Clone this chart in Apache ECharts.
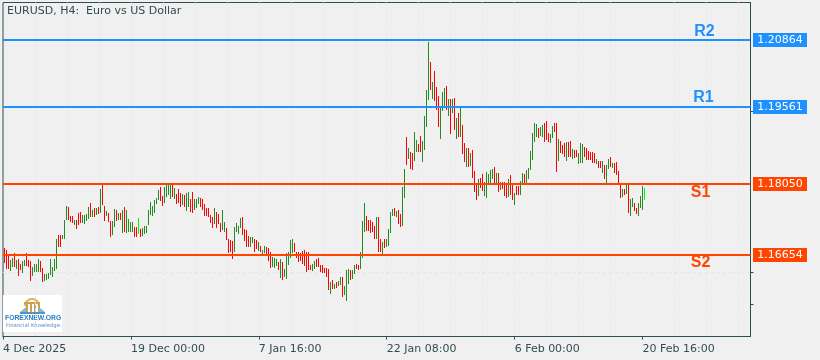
<!DOCTYPE html>
<html><head><meta charset="utf-8">
<style>html,body{margin:0;padding:0;background:#f0f0f0}#c{width:820px;height:360px}</style>
<script src="https://cdn.jsdelivr.net/npm/echarts@6/dist/echarts.min.js"></script>
</head><body><div id="c"></div>
<script>
const title = 'EURUSD, H4:  Euro vs US Dollar';
const tickLabels = ['4 Dec 2025','19 Dec 00:00','7 Jan 16:00','22 Jan 08:00','6 Feb 00:00','20 Feb 16:00'];
const levelNames = ['R2','R1','S1','S2'];
const levelValues = [1.20864,1.19561,1.18050,1.16654];
const levelColors = ['#1E90FF','#1E90FF','#FF4500','#FF4500'];
const levelTextSlot = [351,350.5,349,349];
const levelTextShift = [-8.5,-9,8.5,7.5];
const highs = [
1.1681,1.1677,1.1667,1.1657,1.1661,1.1671,1.1657,1.1659,1.1648,1.1654,
1.1656,1.1671,1.1657,1.1654,1.1643,1.1648,1.1649,1.1658,1.1654,1.1641,
1.1630,1.1630,1.1631,1.1658,1.1643,1.1659,1.1698,1.1706,1.1706,1.1706,
1.1735,1.1762,1.1760,1.1742,1.1742,1.1734,1.1734,1.1748,1.1750,1.1744,
1.1744,1.1747,1.1760,1.1769,1.1755,1.1758,1.1758,1.1761,1.1796,1.1805,
1.1763,1.1752,1.1748,1.1733,1.1733,1.1757,1.1755,1.1748,1.1748,1.1755,
1.1761,1.1755,1.1737,1.1731,1.1731,1.1721,1.1721,1.1739,1.1718,1.1720,
1.1724,1.1724,1.1755,1.1770,1.1763,1.1773,1.1778,1.1794,1.1799,1.1781,
1.1799,1.1805,1.1805,1.1803,1.1805,1.1798,1.1786,1.1795,1.1788,1.1785,
1.1783,1.1788,1.1790,1.1776,1.1790,1.1776,1.1776,1.1780,
1.1778,1.1776,1.1767,1.1759,1.1759,1.1744,1.1741,1.1759,1.1750,1.1747,
1.1729,1.1754,1.1731,1.1720,1.1698,1.1695,1.1694,1.1721,1.1729,1.1724,
1.1739,1.1741,1.1718,1.1716,1.1703,1.1701,1.1701,1.1698,1.1696,1.1692,
1.1683,1.1677,1.1683,1.1682,1.1681,1.1672,1.1663,1.1661,1.1659,1.1652,
1.1659,1.1652,1.1639,1.1670,1.1672,1.1696,1.1698,1.1690,1.1672,1.1672,
1.1670,1.1675,1.1677,1.1672,1.1672,1.1646,1.1648,1.1654,1.1659,1.1661,
1.1646,1.1646,1.1641,1.1641,1.1639,1.1613,1.1617,1.1610,1.1613,1.1615,
1.1623,1.1623,1.1605,1.1637,1.1639,1.1638,1.1637,1.1646,1.1648,1.1646,
1.1672,1.1732,1.1769,1.1742,1.1734,1.1734,1.1731,1.1724,1.1741,1.1741,
1.1698,1.1692,1.1698,1.1698,1.1718,1.1750,1.1757,1.1759,1.1752,1.1754,
1.1747,1.1799,1.1834,1.1897,1.1876,1.1868,1.1866,1.1907,1.1891,1.1883,
1.1899,1.1889,1.1938,1.1989,1.2082,1.2044,1.2005,1.2027,1.1994,1.1977,
1.1953,1.1985,1.1992,1.1997,1.1971,1.1971,1.1971,1.1974,1.1935,1.1943,
1.1954,1.1920,1.1886,1.1876,1.1876,1.1866,1.1871,1.1831,1.1803,1.1814,
1.1817,1.1824,1.1809,1.1829,1.1824,1.1832,1.1835,1.1839,1.1827,1.1827,
1.1809,1.1809,1.1809,1.1806,1.1814,1.1822,1.1805,1.1788,1.1801,1.1801,
1.1811,1.1827,1.1824,1.1833,1.1837,
1.1869,1.1905,1.1925,1.1922,1.1915,1.1917,1.1920,1.1925,1.1929,1.1904,
1.1902,1.1918,1.1925,1.1925,1.1893,1.1889,1.1881,1.1886,1.1888,1.1888,
1.1889,1.1873,1.1871,1.1871,1.1866,1.1886,1.1883,1.1877,1.1876,1.1869,
1.1868,1.1868,1.1865,1.1855,1.1850,1.1850,1.1850,1.1842,1.1842,1.1855,
1.1858,1.1846,1.1846,1.1848,1.1830,1.1806,1.1795,1.1795,1.1804,1.1804,
1.1775,1.1777,1.1769,1.1758,1.1768,1.1781,1.1801,1.1798];
const lows = [
1.1651,1.1639,1.1639,1.1636,1.1643,1.1643,1.1639,1.1626,1.1637,1.1631,
1.1645,1.1646,1.1643,1.1615,1.1626,1.1632,1.1633,1.1633,1.1632,1.1613,
1.1617,1.1618,1.1620,1.1626,1.1624,1.1636,1.1639,1.1682,1.1682,1.1698,
1.1698,1.1734,1.1734,1.1731,1.1728,1.1724,1.1717,1.1724,1.1729,1.1728,
1.1726,1.1734,1.1737,1.1742,1.1741,1.1741,1.1744,1.1747,1.1750,1.1763,
1.1733,1.1742,1.1731,1.1701,1.1705,1.1721,1.1733,1.1734,1.1734,1.1711,
1.1712,1.1711,1.1711,1.1711,1.1711,1.1701,1.1701,1.1708,1.1703,1.1705,
1.1708,1.1711,1.1726,1.1744,1.1744,1.1747,1.1767,1.1774,1.1772,1.1761,
1.1768,1.1780,1.1783,1.1776,1.1780,1.1776,1.1767,1.1767,1.1760,1.1763,
1.1760,1.1752,1.1760,1.1750,1.1748,1.1754,1.1759,1.1767,
1.1760,1.1754,1.1744,1.1744,1.1742,1.1729,1.1719,1.1728,1.1719,1.1728,
1.1711,1.1714,1.1711,1.1697,1.1670,1.1672,1.1658,1.1672,1.1711,1.1708,
1.1720,1.1705,1.1695,1.1682,1.1682,1.1682,1.1690,1.1672,1.1678,1.1675,
1.1671,1.1669,1.1670,1.1665,1.1656,1.1641,1.1643,1.1641,1.1646,1.1637,
1.1622,1.1617,1.1623,1.1619,1.1646,1.1661,1.1670,1.1672,1.1661,1.1652,
1.1654,1.1649,1.1646,1.1633,1.1636,1.1636,1.1635,1.1638,1.1643,1.1644,
1.1633,1.1631,1.1631,1.1624,1.1597,1.1590,1.1600,1.1600,1.1602,1.1605,
1.1607,1.1584,1.1587,1.1576,1.1610,1.1618,1.1620,1.1628,1.1639,1.1637,
1.1638,1.1659,1.1712,1.1712,1.1712,1.1709,1.1711,1.1699,1.1698,1.1673,
1.1673,1.1669,1.1681,1.1682,1.1685,1.1709,1.1744,1.1744,1.1741,1.1726,
1.1722,1.1722,1.1777,1.1842,1.1854,1.1835,1.1832,1.1850,1.1867,1.1868,
1.1868,1.1848,1.1871,1.1917,1.1969,1.1990,1.1972,1.1968,1.1950,1.1917,
1.1893,1.1948,1.1952,1.1950,1.1937,1.1903,1.1944,1.1912,1.1893,1.1897,
1.1897,1.1863,1.1848,1.1839,1.1839,1.1840,1.1817,1.1790,1.1773,1.1780,
1.1798,1.1790,1.1781,1.1778,1.1805,1.1806,1.1816,1.1807,1.1806,1.1790,
1.1793,1.1796,1.1782,1.1778,1.1778,1.1782,1.1773,1.1764,1.1783,1.1783,
1.1783,1.1806,1.1806,1.1807,1.1816,
1.1831,1.1853,1.1888,1.1897,1.1895,1.1899,1.1897,1.1888,1.1892,1.1886,
1.1884,1.1895,1.1907,1.1830,1.1850,1.1865,1.1863,1.1858,1.1850,1.1858,
1.1858,1.1853,1.1855,1.1858,1.1844,1.1846,1.1846,1.1857,1.1853,1.1852,
1.1853,1.1846,1.1845,1.1846,1.1837,1.1836,1.1827,1.1814,1.1806,1.1836,
1.1839,1.1836,1.1827,1.1822,1.1806,1.1779,1.1780,1.1783,1.1786,1.1750,
1.1741,1.1759,1.1754,1.1747,1.1743,1.1757,1.1754,1.1775];
const directions = ('rrrggrgrrg'+'grrrggggrr'+'gggggggrrg'+'ggrrrgrrrg'+'gggrgrgrgr'+'rgrrggrgrg'+
'rggggrrlrg'+'ggggggggrr'+'ggggrgrrrg'+'rggrrgggrr'+'rrrrrgrrrg'+'grrrrggggr'+'rrrggrrgrg'+
'grrrgggrgr'+'gggggrrrrr'+'rrrrggrrrr'+'rrrgrgrggr'+'gggrggrrgg'+'grrrrrgrrg'+'rggggrgrrg'+
'grgrrggrrg'+'gggrgrrrgg'+'grgrgrgrgr'+'rgrgrrrgrr'+'gggggrgrgr'+'rrgrrgrrgg'+'rggggggrgg'+
'rrrggrrgrr'+'rgrrgrrggg'+'rrrrrrgrrg'+'rggrgrrrrg'+'rgrggrrgggl').split('');
const barColors = {r:'#FF0000', g:'#228B22', l:'#00FF00'};
const priceTicks = [1.156992,1.16328,1.19472];

const darkSlate = '#2F4F4F';
const dashStyle = {color:'#E6E6E6', type:[3,3], width:1};
const bars = highs.map((h,i)=>[i+1, lows[i], h]);

const chart = echarts.init(document.getElementById('c'), null, {renderer:'canvas'});
chart.setOption({
  animation:false,
  backgroundColor:'#F0F0F0',
  title:{text:title,left:7,top:6,padding:0,textStyle:{fontFamily:'DejaVu Sans',fontSize:11,fontWeight:'normal',color:darkSlate}},
  grid:{left:2.5,right:69.5,top:2.5,bottom:23.5,show:true,borderColor:darkSlate,borderWidth:1,backgroundColor:'transparent'},
  xAxis:{type:'value',min:0,max:374,interval:64,
    axisLine:{show:true,lineStyle:{color:darkSlate}},
    axisTick:{show:true,length:3,lineStyle:{color:darkSlate},customValues:[0,64,128,192,256,320]},
    minorTick:{show:false,splitNumber:4},
    splitLine:{show:true,showMinLine:false,showMaxLine:false,lineStyle:dashStyle},
    minorSplitLine:{show:true,lineStyle:dashStyle},
    axisLabel:{show:true,margin:7,align:'left',fontFamily:'DejaVu Sans',fontSize:11,color:darkSlate,
      customValues:[0,64,128,192,256,320],
      hideOverlap:false,
      formatter:v=>tickLabels[Math.round(v/64)]||''}},
  yAxis:{type:'value',position:'right',min:1.150704,max:1.216,interval:0.006288,
    axisLine:{show:true,onZero:false,lineStyle:{color:darkSlate}},
    axisTick:{show:true,inside:false,length:3,lineStyle:{color:darkSlate},customValues:priceTicks},
    axisLabel:{show:false},
    splitLine:{show:true,showMinLine:false,showMaxLine:false,lineStyle:dashStyle}},
  series:[{
    type:'custom',
    coordinateSystem:'cartesian2d',
    encode:{x:0,y:[1,2]},
    data:bars,
    clip:false,
    renderItem:(params,api)=>{
      const slot=api.value(0);
      const top=api.coord([slot,api.value(2)]);
      const bot=api.coord([slot,api.value(1)]);
      const col=barColors[directions[params.dataIndex]];
      return {type:'rect',shape:{x:Math.floor(top[0]),y:Math.round(top[1]),width:1,height:Math.max(1,Math.round(bot[1]-top[1]))},
        style:{fill:col}};
    }
  },{
    type:'custom',
    coordinateSystem:'cartesian2d',
    encode:{x:0,y:1},
    data:levelValues.map((v,i)=>[levelTextSlot[i],v]),
    clip:false,
    z:5,
    renderItem:(params,api)=>{
      const i=params.dataIndex, c=api.coord([api.value(0),api.value(1)]);
      const y=Math.round(c[1]-0.2), col=levelColors[i];
      const cs=params.coordSys;
      return {type:'group',children:[
        {type:'rect',shape:{x:cs.x,y:y-1,width:cs.width,height:2},style:{fill:col}},
        {type:'rect',shape:{x:753,y:y-7,width:54,height:14},style:{fill:col}},
        {type:'text',style:{x:780,y:y,text:levelValues[i].toFixed(5),fill:'#FFFFFF',align:'center',verticalAlign:'middle',font:'11px "DejaVu Sans"'}},
        {type:'text',style:{x:c[0],y:y+levelTextShift[i],text:levelNames[i],fill:col,align:'center',verticalAlign:'middle',font:'bold 16px "Liberation Sans"'}}
      ]};
    }
  }],
  graphic:[
    {type:'group',left:3,top:295,silent:true,children:[
      {type:'rect',shape:{x:0,y:0,width:59,height:37},style:{fill:'#FFFFFF'}},
      {type:'arc',shape:{cx:29,cy:11,r:7,startAngle:Math.PI,endAngle:0,clockwise:true},style:{stroke:'#D9B35B',lineWidth:2,fill:'none'}},
      {type:'rect',shape:{x:21,y:7,width:16,height:2},style:{fill:'#C9A24B'}},
      {type:'rect',shape:{x:23,y:9,width:2,height:8},style:{fill:'#C9A24B'}},
      {type:'rect',shape:{x:27,y:9,width:2,height:8},style:{fill:'#C9A24B'}},
      {type:'rect',shape:{x:31,y:9,width:2,height:8},style:{fill:'#C9A24B'}},
      {type:'rect',shape:{x:35,y:9,width:2,height:8},style:{fill:'#C9A24B'}},
      {type:'polygon',shape:{points:[[17,17],[23,12],[23,17]]},style:{fill:'#8FB4D9'}},
      {type:'polygon',shape:{points:[[42,17],[36,12],[36,17]]},style:{fill:'#8FB4D9'}},
      {type:'rect',shape:{x:17,y:17,width:25,height:2},style:{fill:'#4F93CC'}},
      {type:'text',style:{x:2,y:20,text:'FOREXNEW.ORG',fill:'#2A7FC0',font:'bold 6.8px "Liberation Sans"'}},
      {type:'text',style:{x:3,y:28,text:'Financial Knowledge.',fill:'#5C8FBF',font:'5.3px "DejaVu Sans"'}}
    ]}
  ]
});
</script></body></html>
